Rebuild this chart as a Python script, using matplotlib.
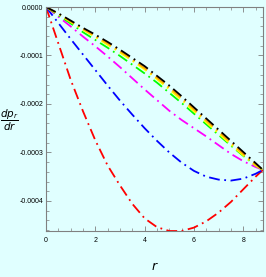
import matplotlib
matplotlib.use("Agg")
import matplotlib.pyplot as plt
from matplotlib.ticker import MultipleLocator, FuncFormatter

r = [0, 0.5, 1, 1.5, 2, 2.5, 3, 3.5, 4, 4.5, 5, 5.5, 6, 6.5, 7, 7.5, 8, 8.5, 8.8]
scale = 1e-4
black = [0, -0.13, -0.28, -0.43, -0.57, -0.72, -0.88, -1.05, -1.22, -1.42, -1.62, -1.84, -2.07, -2.30, -2.53, -2.76, -2.99, -3.22, -3.36]
orange = [0, -0.14, -0.30, -0.45, -0.60, -0.75, -0.91, -1.08, -1.26, -1.46, -1.66, -1.88, -2.11, -2.34, -2.57, -2.80, -3.03, -3.25, -3.36]
yellow = [0, -0.15, -0.31, -0.47, -0.62, -0.78, -0.94, -1.11, -1.29, -1.49, -1.70, -1.92, -2.15, -2.38, -2.61, -2.84, -3.06, -3.27, -3.36]
green = [0, -0.17, -0.34, -0.52, -0.68, -0.84, -1.01, -1.19, -1.37, -1.56, -1.77, -1.98, -2.20, -2.42, -2.64, -2.86, -3.07, -3.27, -3.36]
magenta = [0, -0.20, -0.40, -0.61, -0.81, -1.02, -1.24, -1.47, -1.70, -1.92, -2.14, -2.33, -2.50, -2.67, -2.85, -3.03, -3.18, -3.30, -3.36]
blue = [0, -0.33, -0.66, -0.98, -1.30, -1.62, -1.93, -2.22, -2.50, -2.76, -3.00, -3.21, -3.38, -3.50, -3.56, -3.58, -3.54, -3.44, -3.36]
red = [0, -0.75, -1.50, -2.15, -2.75, -3.27, -3.68, -4.06, -4.36, -4.54, -4.62, -4.62, -4.55, -4.42, -4.24, -4.02, -3.76, -3.50, -3.36]

series = [
    (red, "#ff0000"),
    (blue, "#0000ff"),
    (magenta, "#ff00ff"),
    (green, "#00ff00"),
    (yellow, "#ffff00"),
    (orange, "#ffa500"),
    (black, "#000000"),
]

bg = "#e0ffff"
fig = plt.figure(figsize=(2.66, 2.77), dpi=100, facecolor=bg)
ax = fig.add_axes([46/266, 1-231/277, (263-46)/266, (231-7)/277])
ax.set_facecolor(bg)

for vals, col in series:
    ax.plot(r, [v*scale for v in vals], color=col, lw=1.3,
            dashes=(6, 2.5, 1, 2.5), solid_capstyle='butt', dash_capstyle='butt')

ax.set_xlim(0, 8.8)
ax.set_ylim(-0.000462, 0)

ax.xaxis.set_major_locator(MultipleLocator(2))
ax.xaxis.set_minor_locator(MultipleLocator(0.5))
ax.yaxis.set_major_locator(MultipleLocator(0.0001))
ax.yaxis.set_minor_locator(MultipleLocator(0.00002))
ax.xaxis.set_major_formatter(FuncFormatter(lambda v, p: "%d" % round(v)))
def yfmt(v, p):
    s = "%.4f" % v
    if s == "-0.0000":
        s = "0.0000"
    return s
ax.yaxis.set_major_formatter(FuncFormatter(yfmt))

fam = ['Liberation Sans', 'DejaVu Sans']
for lab in ax.get_xticklabels() + ax.get_yticklabels():
    lab.set_family(fam)
    lab.set_fontsize(5)

ax.tick_params(which='both', direction='in', top=True, right=True, color='#808080')
ax.tick_params(which='major', length=3.5, width=0.6)
ax.tick_params(which='minor', length=2, width=0.5)
ax.tick_params(axis='y', pad=2)
ax.tick_params(axis='x', pad=4)
for s in ax.spines.values():
    s.set_color('#808080')
    s.set_linewidth(0.8)

fig.text(9/266, 1-120/277, r'$\dfrac{dp_r}{dr}$', fontsize=7.5, ha='center', va='center')
fig.text(155/266, 1-267/277, r'$r$', fontsize=9, ha='center', va='center')

fig.savefig("out.png", dpi=100, facecolor=bg)
